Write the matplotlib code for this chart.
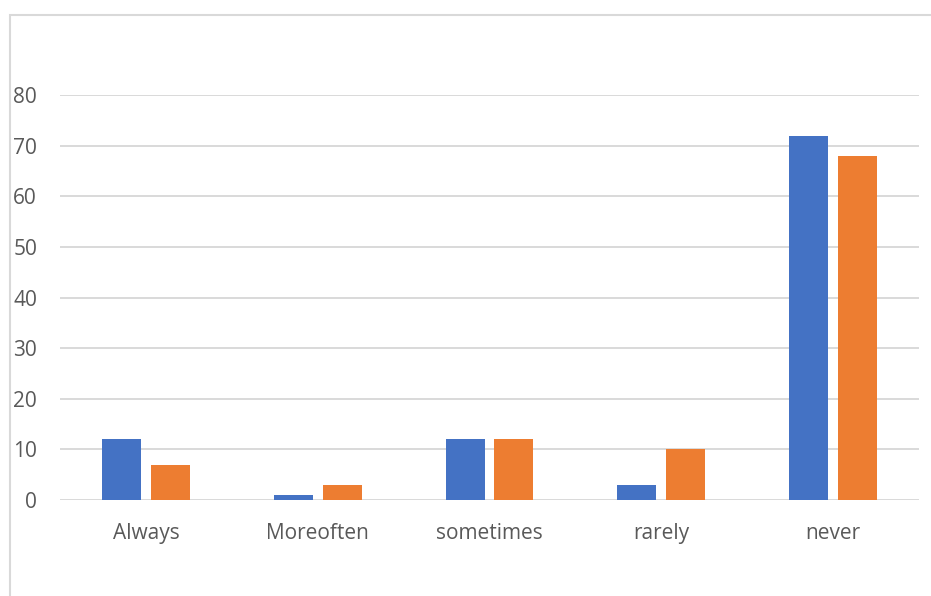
import numpy as np
import matplotlib.pyplot as plt
from matplotlib.patches import Rectangle

categories = ['Always', 'Moreoften', 'sometimes', 'rarely', 'never']
series_a = [12, 1, 12, 3, 72]
series_b = [7, 3, 12, 10, 68]
yticks = [0, 10, 20, 30, 40, 50, 60, 70, 80]

blue = '#4472C4'
orange = '#ED7D31'
grid = '#D9D9D9'
text = '#595959'

plt.rcParams['font.family'] = ['Open Sans', 'DejaVu Sans']

W, H = 931, 596
fig = plt.figure(figsize=(W / 100, H / 100), dpi=100)
ax = fig.add_axes([60 / W, (H - 500) / H, (919 - 60) / W, (500 - 95) / H])

# chart frame, runs off the right and bottom edges
fig.patches.append(Rectangle((9.5 / W, -0.1), 1.2, (H - 14.5) / H + 0.1,
                             transform=fig.transFigure, fill=False,
                             edgecolor=grid, linewidth=1.5))

x = np.arange(len(categories))
width = 0.227
gap = 0.058
ax.bar(x - (width + gap) / 2, series_a, width, color=blue, zorder=3)
ax.bar(x + (width + gap) / 2, series_b, width, color=orange, zorder=3)

ax.set_xlim(-0.5, len(categories) - 0.5)
ax.set_ylim(0, 80)
ax.set_yticks(yticks)
ax.set_xticks(x)
ax.set_xticklabels(categories)
ax.yaxis.grid(True, color=grid, linewidth=1.4, zorder=0)
ax.set_axisbelow(True)

for s in ax.spines.values():
    s.set_visible(False)
ax.tick_params(axis='both', length=0, labelsize=15, colors=text)
ax.tick_params(axis='y', pad=16.5)
ax.tick_params(axis='x', pad=16.5)

fig.savefig('out.png', dpi=100)
